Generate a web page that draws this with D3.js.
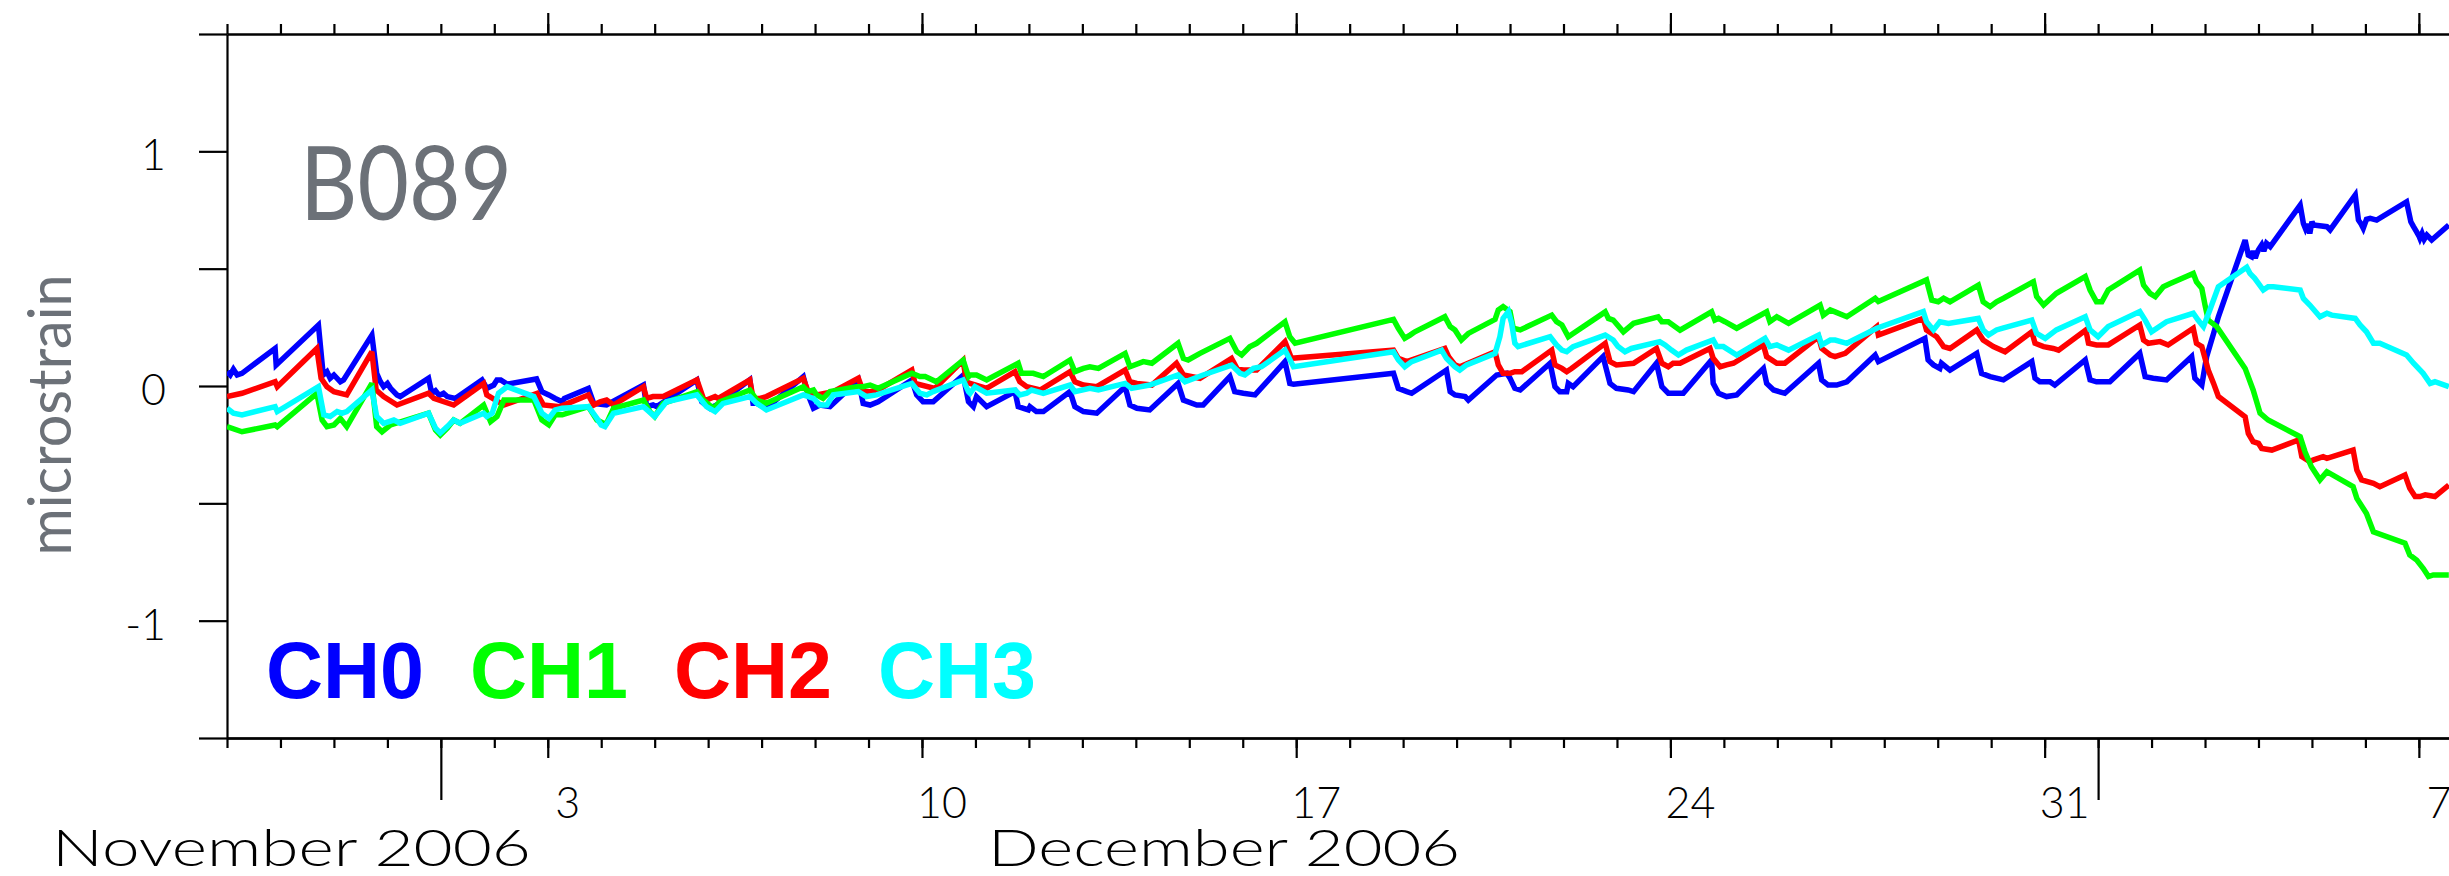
<!DOCTYPE html>
<html>
<head>
<meta charset="utf-8">
<script src="https://cdn.jsdelivr.net/npm/d3@7"></script>
<style>
  html, body { margin: 0; padding: 0; background: #ffffff; }
  svg { display: block; }
</style>
</head>
<body>
<svg id="chart" width="2449" height="876"></svg>
<script>
// ---- Data -------------------------------------------------------------
// Time axis: days counted from 2006-11-27 00:00 UTC.
const startDate = Date.UTC(2006, 10, 27);
const endDate = Date.UTC(2007, 0, 8);

const stationName = "B089";
const yTitle = "microstrain";
const channelNames = ["CH0", "CH1", "CH2", "CH3"];
const yTickValues = [-1.5, -1, -0.5, 0, 0.5, 1, 1.5];
const yTickLabelValues = [-1, 0, 1];
const monthLabels = ["November 2006", "December 2006"];

// Strain per channel: [day offset, microstrain]
const ch0 = [[0,0.061],[0.06,0.047],[0.12,0.071],[0.19,0.047],[0.28,0.054],[0.9,0.16],[0.92,0.09],[1.71,0.26],[1.8,0.047],[1.87,0.061],[1.93,0.033],[2.0,0.047],[2.12,0.018],[2.18,0.026],[2.71,0.217],[2.8,0.054],[2.87,0.018],[2.93,-0.003],[3.0,0.011],[3.06,-0.01],[3.18,-0.038],[3.24,-0.045],[3.77,0.033],[3.83,-0.031],[3.9,-0.02],[3.97,-0.04],[4.05,-0.031],[4.12,-0.045],[4.27,-0.053],[4.77,0.026],[4.86,-0.01],[4.99,0.004],[5.05,0.026],[5.12,0.026],[5.24,0.008],[5.79,0.03],[5.89,-0.024],[6.02,-0.038],[6.14,-0.053],[6.27,-0.067],[6.31,-0.053],[6.76,-0.01],[6.86,-0.074],[7.1,-0.081],[7.79,0.004],[7.85,-0.088],[7.97,-0.081],[8.04,-0.088],[8.79,0.026],[8.88,-0.067],[9.03,-0.095],[9.16,-0.081],[9.78,0.026],[9.84,-0.074],[9.91,-0.074],[10.09,-0.095],[10.78,0.04],[10.87,-0.038],[10.97,-0.095],[11.09,-0.081],[11.28,-0.088],[11.81,0.026],[11.9,-0.074],[12.03,-0.081],[12.18,-0.067],[12.81,0.026],[12.9,-0.038],[13.02,-0.067],[13.21,-0.067],[13.77,0.046],[13.87,-0.067],[13.96,-0.088],[14.02,-0.045],[14.21,-0.088],[14.74,-0.024],[14.8,-0.088],[14.9,-0.095],[14.99,-0.102],[15.02,-0.088],[15.14,-0.109],[15.27,-0.109],[15.77,-0.024],[15.86,-0.088],[16.02,-0.109],[16.27,-0.116],[16.8,-0.003],[16.89,-0.081],[17.02,-0.095],[17.26,-0.102],[17.79,0.011],[17.89,-0.06],[18.14,-0.081],[18.26,-0.081],[18.76,0.04],[18.85,-0.024],[19.01,-0.031],[19.23,-0.038],[19.79,0.104],[19.88,0.011],[19.95,0.008],[21.82,0.054],[21.91,-0.01],[22.07,-0.024],[22.16,-0.031],[22.81,0.068],[22.88,-0.024],[22.97,-0.038],[23.16,-0.045],[23.22,-0.06],[23.75,0.047],[23.94,0.054],[24.0,0.033],[24.09,-0.01],[24.19,-0.017],[24.75,0.097],[24.84,-0.003],[24.93,-0.024],[25.06,-0.024],[25.09,0.011],[25.18,-0.003],[25.74,0.125],[25.87,0.011],[25.99,-0.01],[26.21,-0.017],[26.31,-0.024],[26.74,0.097],[26.84,-0.003],[26.96,-0.031],[27.24,-0.031],[27.77,0.111],[27.8,0.011],[27.9,-0.031],[28.05,-0.045],[28.24,-0.038],[28.74,0.075],[28.8,0.011],[28.93,-0.017],[29.14,-0.031],[29.77,0.097],[29.83,0.026],[29.95,0.004],[30.11,0.004],[30.3,0.018],[30.83,0.132],[30.89,0.104],[31.76,0.203],[31.82,0.111],[31.92,0.09],[32.04,0.075],[32.07,0.097],[32.23,0.068],[32.73,0.139],[32.82,0.054],[32.98,0.04],[33.23,0.026],[33.76,0.104],[33.82,0.033],[33.91,0.018],[34.1,0.018],[34.19,0.004],[34.76,0.111],[34.85,0.026],[34.97,0.018],[35.22,0.018],[35.78,0.139],[35.88,0.04],[36.03,0.033],[36.28,0.026],[36.75,0.125],[36.81,0.033],[36.94,0.004],[37.03,0.125],[37.16,0.224],[37.25,0.295],[37.75,0.622],[37.81,0.558],[37.87,0.551],[37.9,0.575],[37.94,0.545],[37.97,0.565],[38.0,0.58],[38.06,0.601],[38.1,0.575],[38.15,0.608],[38.22,0.594],[38.78,0.771],[38.84,0.693],[38.88,0.67],[38.92,0.69],[38.96,0.65],[39.0,0.7],[39.03,0.686],[39.28,0.679],[39.34,0.665],[39.81,0.814],[39.87,0.707],[39.92,0.69],[39.96,0.672],[40.02,0.71],[40.09,0.714],[40.21,0.707],[40.77,0.785],[40.85,0.7],[40.9,0.679],[40.95,0.66],[41.0,0.64],[41.02,0.629],[41.06,0.65],[41.1,0.625],[41.15,0.643],[41.24,0.622],[41.56,0.686]];

const ch1 = [[0,-0.173],[0.28,-0.195],[0.9,-0.166],[0.94,-0.173],[1.68,-0.031],[1.78,-0.145],[1.87,-0.173],[2.0,-0.166],[2.12,-0.138],[2.24,-0.173],[2.71,0.011],[2.8,-0.173],[2.9,-0.195],[3.06,-0.166],[3.77,-0.116],[3.9,-0.187],[3.99,-0.209],[4.12,-0.18],[4.24,-0.145],[4.36,-0.159],[4.8,-0.081],[4.93,-0.152],[5.05,-0.13],[5.18,-0.06],[5.74,-0.06],[5.89,-0.145],[6.02,-0.166],[6.14,-0.123],[6.27,-0.123],[6.76,-0.088],[6.92,-0.145],[7.04,-0.159],[7.1,-0.159],[7.23,-0.095],[7.79,-0.06],[7.91,-0.109],[8.0,-0.13],[8.16,-0.074],[8.79,-0.024],[8.91,-0.06],[9.1,-0.095],[9.22,-0.067],[9.78,-0.017],[9.91,-0.06],[10.09,-0.074],[10.78,-0.003],[10.87,-0.024],[10.97,-0.017],[11.03,-0.038],[11.15,-0.053],[11.28,-0.024],[11.78,-0.003],[11.9,-0.003],[12.03,0.004],[12.18,-0.01],[12.81,0.054],[12.96,0.04],[13.06,0.04],[13.27,0.018],[13.77,0.11],[13.87,0.04],[13.9,0.047],[14.02,0.047],[14.21,0.026],[14.8,0.097],[14.86,0.054],[15.08,0.054],[15.27,0.04],[15.77,0.111],[15.86,0.061],[16.02,0.075],[16.14,0.082],[16.3,0.075],[16.8,0.139],[16.89,0.082],[17.14,0.104],[17.3,0.097],[17.79,0.182],[17.89,0.118],[17.98,0.111],[18.2,0.139],[18.76,0.203],[18.89,0.146],[18.98,0.132],[19.13,0.167],[19.26,0.182],[19.79,0.274],[19.88,0.21],[19.98,0.182],[21.82,0.284],[21.91,0.246],[22.03,0.203],[22.13,0.217],[22.22,0.231],[22.78,0.295],[22.88,0.253],[22.97,0.239],[23.09,0.196],[23.22,0.224],[23.72,0.284],[23.78,0.324],[23.87,0.338],[24.0,0.317],[24.06,0.246],[24.19,0.239],[24.78,0.302],[24.87,0.274],[24.97,0.26],[25.09,0.21],[25.18,0.224],[25.78,0.316],[25.84,0.288],[25.93,0.281],[26.12,0.231],[26.31,0.267],[26.77,0.295],[26.84,0.274],[26.96,0.274],[27.18,0.238],[27.77,0.316],[27.83,0.281],[27.9,0.288],[28.02,0.274],[28.24,0.246],[28.8,0.316],[28.86,0.274],[28.99,0.295],[29.21,0.267],[29.8,0.345],[29.86,0.302],[29.99,0.324],[30.08,0.316],[30.3,0.295],[30.83,0.374],[30.89,0.36],[31.79,0.452],[31.89,0.366],[32.01,0.359],[32.11,0.374],[32.23,0.359],[32.76,0.43],[32.85,0.359],[32.98,0.338],[33.1,0.359],[33.23,0.374],[33.79,0.444],[33.85,0.381],[33.98,0.345],[34.22,0.395],[34.76,0.466],[34.85,0.409],[34.97,0.359],[35.07,0.359],[35.19,0.409],[35.78,0.494],[35.85,0.43],[35.97,0.395],[36.07,0.381],[36.22,0.423],[36.35,0.437],[36.78,0.48],[36.84,0.444],[36.94,0.416],[37.0,0.345],[37.06,0.281],[37.22,0.253],[37.75,0.075],[37.9,-0.017],[38.03,-0.116],[38.18,-0.145],[38.78,-0.216],[38.87,-0.28],[38.99,-0.344],[39.15,-0.4],[39.28,-0.365],[39.77,-0.429],[39.84,-0.479],[40.02,-0.543],[40.15,-0.621],[40.74,-0.67],[40.83,-0.72],[40.96,-0.742],[41.08,-0.777],[41.18,-0.812],[41.27,-0.805],[41.56,-0.805]];

const ch2 = [[0,-0.045],[0.28,-0.031],[0.9,0.018],[0.94,-0.003],[1.68,0.16],[1.76,0.033],[1.87,-0.003],[2.0,-0.024],[2.24,-0.038],[2.71,0.146],[2.79,-0.017],[2.93,-0.045],[3.18,-0.081],[3.77,-0.031],[3.87,-0.053],[4.24,-0.081],[4.8,0.011],[4.86,-0.038],[5.18,-0.081],[5.8,-0.031],[5.92,-0.081],[6.23,-0.088],[6.76,-0.038],[6.86,-0.081],[6.98,-0.067],[7.1,-0.06],[7.23,-0.081],[7.79,-0.003],[7.85,-0.053],[7.97,-0.045],[8.16,-0.045],[8.79,0.026],[8.91,-0.053],[8.97,-0.06],[9.13,-0.045],[9.19,-0.053],[9.78,0.026],[9.84,-0.053],[9.97,-0.053],[10.09,-0.045],[10.78,0.033],[10.87,-0.024],[11.03,-0.038],[11.34,-0.024],[11.81,0.033],[11.9,-0.024],[12.03,-0.024],[12.18,-0.017],[12.81,0.068],[12.87,0.011],[13.24,-0.01],[13.77,0.11],[13.83,0.018],[13.9,0.011],[14.21,-0.01],[14.74,0.061],[14.83,0.018],[14.96,-0.003],[15.21,-0.017],[15.77,0.061],[15.86,0.018],[16.02,0.004],[16.27,-0.003],[16.8,0.068],[16.89,0.018],[17.02,0.011],[17.3,0.004],[17.76,0.097],[17.89,0.047],[18.2,0.033],[18.79,0.118],[18.89,0.075],[19.01,0.068],[19.26,0.068],[19.79,0.189],[19.91,0.118],[21.82,0.153],[21.91,0.118],[22.07,0.104],[22.78,0.16],[22.85,0.125],[22.97,0.09],[23.06,0.082],[23.72,0.146],[23.78,0.09],[23.87,0.054],[24.0,0.054],[24.09,0.061],[24.22,0.061],[24.78,0.153],[24.84,0.09],[24.97,0.075],[25.06,0.061],[25.15,0.075],[25.78,0.182],[25.87,0.104],[25.99,0.09],[26.31,0.097],[26.74,0.16],[26.84,0.097],[26.96,0.082],[27.05,0.097],[27.18,0.097],[27.74,0.16],[27.8,0.118],[27.93,0.082],[28.05,0.09],[28.18,0.097],[28.74,0.175],[28.8,0.125],[28.99,0.097],[29.14,0.097],[29.77,0.21],[29.83,0.16],[29.99,0.132],[30.08,0.125],[30.27,0.139],[30.86,0.253],[30.89,0.217],[31.73,0.288],[31.79,0.239],[31.98,0.21],[32.11,0.168],[32.23,0.16],[32.73,0.239],[32.85,0.196],[33.04,0.168],[33.26,0.146],[33.76,0.231],[33.82,0.182],[33.98,0.168],[34.16,0.16],[34.26,0.153],[34.77,0.239],[34.82,0.182],[34.97,0.175],[35.19,0.175],[35.78,0.26],[35.85,0.196],[35.94,0.182],[36.16,0.189],[36.31,0.175],[36.78,0.246],[36.84,0.182],[36.94,0.168],[37.06,0.068],[37.16,0.011],[37.25,-0.045],[37.75,-0.131],[37.81,-0.202],[37.9,-0.237],[38.0,-0.244],[38.06,-0.266],[38.25,-0.273],[38.75,-0.23],[38.81,-0.301],[38.96,-0.322],[39.03,-0.315],[39.21,-0.301],[39.28,-0.308],[39.77,-0.273],[39.84,-0.358],[39.93,-0.4],[40.15,-0.415],[40.27,-0.429],[40.74,-0.379],[40.83,-0.436],[40.93,-0.471],[41.02,-0.471],[41.12,-0.464],[41.3,-0.471],[41.56,-0.422]];

const ch3 = [[0,-0.095],[0.12,-0.116],[0.28,-0.123],[0.9,-0.088],[0.94,-0.109],[1.71,-0.003],[1.81,-0.123],[1.93,-0.13],[2.06,-0.109],[2.15,-0.116],[2.24,-0.109],[2.71,-0.017],[2.8,-0.13],[2.93,-0.159],[3.12,-0.145],[3.24,-0.159],[3.77,-0.116],[3.9,-0.18],[3.99,-0.2],[4.12,-0.173],[4.24,-0.145],[4.36,-0.159],[4.8,-0.116],[4.86,-0.13],[4.96,-0.116],[5.08,-0.031],[5.24,-0.003],[5.74,-0.045],[5.89,-0.116],[6.02,-0.138],[6.14,-0.102],[6.27,-0.095],[6.76,-0.088],[6.92,-0.138],[7.0,-0.166],[7.07,-0.173],[7.23,-0.116],[7.79,-0.088],[8.0,-0.13],[8.22,-0.067],[8.79,-0.038],[8.97,-0.088],[9.13,-0.109],[9.28,-0.074],[9.78,-0.045],[9.91,-0.074],[10.09,-0.102],[10.78,-0.038],[10.97,-0.053],[11.09,-0.081],[11.22,-0.081],[11.34,-0.038],[11.81,-0.024],[11.96,-0.045],[12.15,-0.038],[12.81,0.011],[12.96,-0.031],[13.09,-0.038],[13.21,-0.024],[13.77,0.026],[13.87,-0.024],[13.9,-0.031],[13.99,-0.003],[14.21,-0.031],[14.74,-0.017],[14.83,-0.038],[14.96,-0.031],[15.05,-0.017],[15.27,-0.031],[15.77,0.004],[15.86,-0.024],[16.14,-0.01],[16.3,-0.017],[16.8,0.011],[16.92,-0.01],[17.26,0.004],[17.79,0.047],[17.92,0.018],[18.26,0.047],[18.79,0.089],[18.95,0.054],[19.04,0.047],[19.2,0.075],[19.35,0.082],[19.79,0.153],[19.95,0.082],[21.82,0.146],[21.91,0.111],[22.03,0.082],[22.16,0.104],[22.72,0.153],[22.81,0.118],[22.97,0.082],[23.06,0.068],[23.19,0.09],[23.72,0.139],[23.81,0.21],[23.87,0.288],[23.97,0.317],[24.03,0.267],[24.09,0.182],[24.15,0.168],[24.75,0.21],[24.87,0.175],[24.97,0.153],[25.06,0.146],[25.18,0.168],[25.78,0.217],[25.93,0.196],[26.02,0.168],[26.15,0.146],[26.27,0.16],[26.8,0.189],[26.9,0.175],[27.02,0.153],[27.15,0.132],[27.3,0.153],[27.8,0.196],[27.87,0.168],[27.99,0.168],[28.24,0.132],[28.77,0.203],[28.86,0.168],[28.99,0.175],[29.21,0.153],[29.77,0.217],[29.83,0.175],[29.99,0.196],[30.08,0.196],[30.3,0.182],[30.86,0.246],[31.73,0.317],[31.79,0.274],[31.92,0.239],[32.04,0.274],[32.2,0.267],[32.76,0.288],[32.85,0.239],[32.95,0.217],[33.1,0.239],[33.2,0.246],[33.76,0.281],[33.85,0.224],[34.01,0.203],[34.22,0.239],[34.76,0.295],[34.85,0.239],[35.0,0.21],[35.19,0.253],[35.78,0.317],[35.88,0.281],[36.0,0.231],[36.28,0.274],[36.78,0.31],[36.87,0.281],[36.97,0.253],[37.09,0.324],[37.25,0.423],[37.78,0.506],[37.84,0.48],[37.93,0.459],[38.09,0.409],[38.18,0.423],[38.28,0.423],[38.78,0.409],[38.84,0.373],[38.96,0.345],[39.15,0.295],[39.28,0.31],[39.37,0.302],[39.81,0.288],[39.9,0.26],[40.02,0.231],[40.15,0.182],[40.27,0.182],[40.77,0.132],[40.9,0.097],[41.08,0.054],[41.21,0.011],[41.3,0.018],[41.56,-0.003]];

// ---- Layout -----------------------------------------------------------
const W = 2449, H = 876;
const plot = { left: 227, top: 34, bottom: 738, dayWidth: 53.46 };
const dayMs = 864e5;
const axisFont = "Lato, 'Open Sans', 'DejaVu Sans', sans-serif";
const grey = "#6c7178";
const lineColors = ["#0000ff", "#00ff00", "#ff0000", "#00ffff"];

const svg = d3.select("#chart");

const nDays = (endDate - startDate) / dayMs;
const x = d3.scaleUtc()
  .domain([new Date(startDate), new Date(endDate)])
  .range([plot.left, plot.left + nDays * plot.dayWidth]);
const y = d3.scaleLinear().domain([-1.5, 1.5]).range([plot.bottom, plot.top]);

const toDate = d => new Date(startDate + d * dayMs);

// ---- Axes -------------------------------------------------------------
const days = d3.utcDay.range(new Date(startDate), new Date(endDate + 1));
const sundays = d3.utcSunday.range(new Date(startDate), new Date(endDate + 1));
const months = d3.utcMonth.range(new Date(startDate), new Date(endDate + 1));

function styleAxis(g) {
  g.selectAll("path, line").attr("stroke", "#000").attr("stroke-width", 2.2);
  g.selectAll("text").remove();
}

// top: daily and weekly ticks, no labels
svg.append("g").attr("transform", `translate(0,${plot.top})`)
  .call(d3.axisTop(x).tickValues(days).tickSize(10).tickSizeOuter(0)).call(styleAxis);
svg.append("g").attr("transform", `translate(0,${plot.top})`)
  .call(d3.axisTop(x).tickValues(sundays).tickSize(21).tickSizeOuter(0)).call(styleAxis);

// bottom: daily, weekly and month ticks
svg.append("g").attr("transform", `translate(0,${plot.bottom})`)
  .call(d3.axisBottom(x).tickValues(days).tickSize(10).tickSizeOuter(0)).call(styleAxis);
svg.append("g").attr("transform", `translate(0,${plot.bottom})`)
  .call(d3.axisBottom(x).tickValues(sundays).tickSize(20).tickSizeOuter(0)).call(styleAxis);
svg.append("g").attr("transform", `translate(0,${plot.bottom})`)
  .call(d3.axisBottom(x).tickValues(months).tickSize(62).tickSizeOuter(0)).call(styleAxis);

// weekly date labels
svg.append("g").selectAll("text").data(sundays).join("text")
  .attr("x", d => x(d) + 20)
  .attr("y", 818)
  .attr("text-anchor", "middle")
  .attr("font-family", axisFont)
  .attr("font-size", 43)
  .attr("font-weight", 300)
  .attr("fill", "#000")
  .text(d3.utcFormat("%-d"));

// month labels
const monthLabelX = [52, 988];
const monthLabelLen = [479, 472];
svg.append("g").selectAll("text").data(monthLabels).join("text")
  .attr("x", (d, i) => monthLabelX[i])
  .attr("y", 866)
  .attr("font-family", axisFont)
  .attr("font-size", 51)
  .attr("font-weight", 300)
  .attr("textLength", (d, i) => monthLabelLen[i])
  .attr("lengthAdjust", "spacingAndGlyphs")
  .attr("fill", "#000")
  .text(d => d);

// left axis
svg.append("g").attr("transform", `translate(${plot.left},0)`)
  .call(d3.axisLeft(y).tickValues(yTickValues).tickSize(28).tickSizeOuter(0)).call(styleAxis);

svg.append("g").selectAll("text").data(yTickLabelValues).join("text")
  .attr("x", 166)
  .attr("y", d => y(d) + 19)
  .attr("text-anchor", "end")
  .attr("font-family", axisFont)
  .attr("font-size", 43)
  .attr("font-weight", 300)
  .attr("fill", "#000")
  .text(d => String(d));

// axis title
svg.append("text")
  .attr("transform", "translate(71,415) rotate(-90)")
  .attr("text-anchor", "middle")
  .attr("font-family", axisFont)
  .attr("font-size", 60)
  .attr("textLength", 281)
  .attr("lengthAdjust", "spacingAndGlyphs")
  .attr("fill", grey)
  .text(yTitle);

// station name
svg.append("text")
  .attr("x", 300)
  .attr("y", 220)
  .attr("font-family", axisFont)
  .attr("font-size", 103)
  .attr("textLength", 212)
  .attr("lengthAdjust", "spacingAndGlyphs")
  .attr("fill", grey)
  .text(stationName);

// ---- Series -----------------------------------------------------------
const line = d3.line()
  .x(p => x(toDate(p[0])))
  .y(p => y(p[1]));

const series = [ch0, ch2, ch1, ch3];
const seriesColor = [lineColors[0], lineColors[2], lineColors[1], lineColors[3]];

svg.append("defs").append("clipPath").attr("id", "plotClip")
  .append("rect").attr("x", plot.left).attr("y", plot.top)
  .attr("width", W - plot.left).attr("height", plot.bottom - plot.top);

svg.append("g").attr("clip-path", "url(#plotClip)")
  .selectAll("path").data(series).join("path")
  .attr("d", line)
  .attr("fill", "none")
  .attr("stroke", (d, i) => seriesColor[i])
  .attr("stroke-width", 5.5)
  .attr("stroke-linejoin", "miter")
  .attr("stroke-miterlimit", 3);

// ---- Legend -----------------------------------------------------------
const legendX = [266, 470, 674, 878];
svg.append("g").selectAll("text").data(channelNames).join("text")
  .attr("x", (d, i) => legendX[i])
  .attr("y", 698)
  .attr("font-family", "'Liberation Sans', Arial, Helvetica, sans-serif")
  .attr("font-weight", "bold")
  .attr("font-size", 79)
  .attr("fill", (d, i) => lineColors[i])
  .text(d => d);
</script>
</body>
</html>
